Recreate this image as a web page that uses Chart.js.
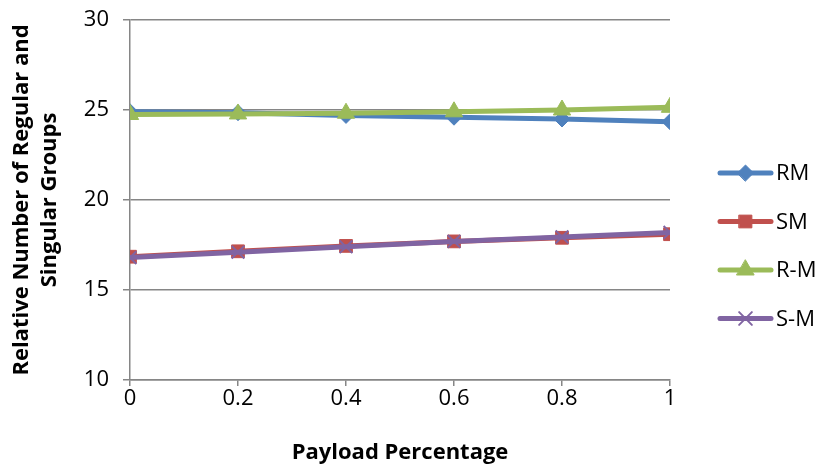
<!DOCTYPE html>
<html>
<head>
<meta charset="utf-8">
<script src="https://cdn.jsdelivr.net/npm/chart.js@4"></script>
<style>
  html, body { margin: 0; padding: 0; background: #fff; }
  #wrap { width: 824px; height: 470px; }
</style>
</head>
<body>
<div id="wrap"><canvas id="chart" width="824" height="470"></canvas></div>
<script>
// --- Data ---
const payload = [0, 0.2, 0.4, 0.6, 0.8, 1];
const rmValues = [24.9, 24.85, 24.7, 24.6, 24.5, 24.35];
const smValues = [16.85, 17.15, 17.45, 17.7, 17.9, 18.1];
const rMinusMValues = [24.75, 24.78, 24.82, 24.9, 25.0, 25.15];
const sMinusMValues = [16.8, 17.1, 17.4, 17.7, 17.95, 18.2];
const seriesNames = ['RM', 'SM', 'R-M', 'S-M'];
const yTicks = [10, 15, 20, 25, 30];

const FONT = '"Open Sans", Lato, sans-serif';
const axisGray = '#868686';

function pts(values) {
  return payload.map((x, i) => ({ x: x, y: values[i] }));
}

// legend drawn as Excel does: a line segment with the marker in the middle
const sideLegend = {
  id: 'sideLegend',
  afterDraw(chart) {
    const ctx = chart.ctx;
    const startY = 173, step = 48.5;
    chart.data.datasets.forEach((ds, i) => {
      const y = startY + i * step;
      ctx.save();
      ctx.strokeStyle = ds.borderColor;
      ctx.lineWidth = 5;
      ctx.lineCap = 'round';
      ctx.beginPath();
      ctx.moveTo(720, y);
      ctx.lineTo(771, y);
      ctx.stroke();
      ctx.fillStyle = ds.borderColor;
      ctx.lineWidth = ds.pointBorderWidth;
      Chart.helpers.drawPoint(ctx, {
        pointStyle: ds.pointStyle,
        radius: ds.pointRadius,
        rotation: 0,
        borderWidth: ds.pointBorderWidth
      }, 745.5, y);
      ctx.fillStyle = '#000';
      ctx.font = '22px ' + FONT;
      ctx.textBaseline = 'middle';
      ctx.fillText(ds.label, 776, y + 1);
      ctx.restore();
    });
  }
};

function makeSet(label, values, color, style, radius, order, extra) {
  return Object.assign({
    label: label,
    data: pts(values),
    borderColor: color,
    backgroundColor: color,
    pointBackgroundColor: color,
    pointBorderColor: color,
    borderWidth: 5,
    pointStyle: style,
    pointRadius: radius,
    pointBorderWidth: 1,
    tension: 0,
    order: order
  }, extra || {});
}

new Chart(document.getElementById('chart'), {
  type: 'line',
  data: {
    datasets: [
      makeSet(seriesNames[0], rmValues, '#4F81BD', 'rectRot', 8, 3),
      makeSet(seriesNames[1], smValues, '#C0504D', 'rect', 9, 2),
      makeSet(seriesNames[2], rMinusMValues, '#9BBB59', 'triangle', 10, 1),
      makeSet(seriesNames[3], sMinusMValues, '#8064A2', 'crossRot', 9, 0, { pointBorderWidth: 2 })
    ]
  },
  options: {
    responsive: false,
    animation: false,
    devicePixelRatio: 1,
    layout: { padding: { top: 20, right: 154, left: 0, bottom: 0 } },
    plugins: {
      legend: { display: false },
      tooltip: { enabled: false }
    },
    scales: {
      x: {
        type: 'linear',
        min: 0,
        max: 1,
        afterBuildTicks(scale) {
          scale.ticks = payload.map(v => ({ value: v }));
        },
        afterFit(scale) {
          scale.height = 90;
          scale.paddingLeft = 0;
          scale.paddingRight = 0;
        },
        grid: {
          drawOnChartArea: false,
          drawTicks: true,
          tickLength: 6,
          color: axisGray,
          lineWidth: 1.5
        },
        border: { color: axisGray, width: 1.5 },
        ticks: {
          color: '#000',
          font: { family: FONT, size: 22 },
          padding: 0,
          maxRotation: 0,
          callback: v => String(v)
        },
        title: {
          display: true,
          text: 'Payload Percentage',
          color: '#000',
          font: { family: FONT, size: 22, weight: 'bold' },
          padding: { top: 8 }
        }
      },
      y: {
        min: 10,
        max: 30,
        afterBuildTicks(scale) {
          scale.ticks = yTicks.map(v => ({ value: v }));
        },
        afterFit(scale) {
          scale.width = 130;
          scale.paddingTop = 0;
          scale.paddingBottom = 0;
        },
        grid: {
          color: axisGray,
          lineWidth: 1.5,
          tickLength: 7
        },
        border: { color: axisGray, width: 1.5 },
        ticks: {
          color: '#000',
          font: { family: FONT, size: 22 },
          padding: 14
        },
        title: {
          display: true,
          text: ['Relative Number of Regular and', 'Singular Groups'],
          color: '#000',
          font: { family: FONT, size: 22, weight: 'bold', lineHeight: 1.25 },
          padding: { top: 8, bottom: 10 }
        }
      }
    }
  },
  plugins: [sideLegend]
});
</script>
</body>
</html>
